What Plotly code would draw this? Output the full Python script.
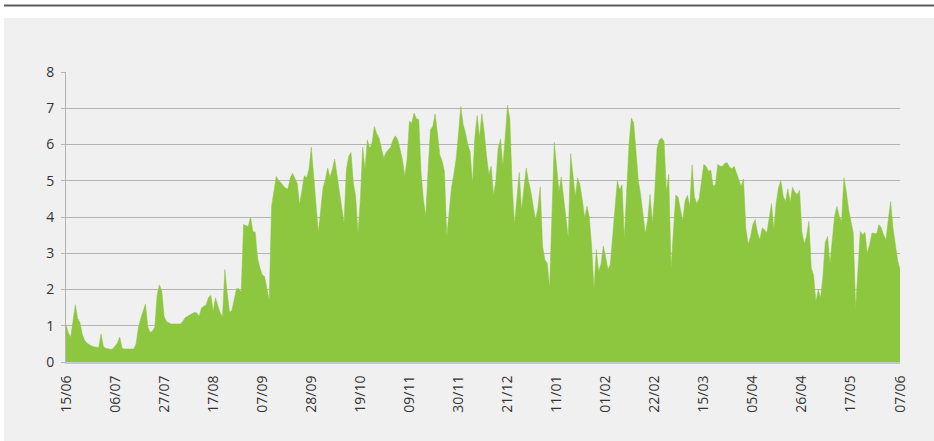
import pandas as pd
import plotly.graph_objects as go

start_date = "2014-06-15"
values = [
    1.03, 0.80, 0.68, 1.20, 1.58, 1.20, 1.08, 0.75, 0.60, 0.52,
    0.47, 0.44, 0.42, 0.40, 0.40, 0.78, 0.42, 0.38, 0.36, 0.35,
    0.36, 0.45, 0.52, 0.69, 0.38, 0.36, 0.36, 0.36, 0.36, 0.36,
    0.50, 0.95, 1.20, 1.40, 1.60, 0.98, 0.82, 0.85, 0.96, 1.85,
    2.13, 1.95, 1.26, 1.12, 1.08, 1.05, 1.05, 1.05, 1.05, 1.05,
    1.12, 1.22, 1.26, 1.29, 1.33, 1.37, 1.35, 1.26, 1.49, 1.53,
    1.58, 1.78, 1.84, 1.40, 1.77, 1.55, 1.35, 1.26, 2.55, 1.90,
    1.38, 1.42, 1.70, 2.02, 2.02, 1.93, 3.79, 3.76, 3.74, 4.00,
    3.60, 3.58, 2.87, 2.60, 2.41, 2.36, 2.00, 1.70, 4.30, 4.75,
    5.12, 5.00, 4.95, 4.86, 4.80, 4.77, 5.08, 5.21, 5.08, 4.92,
    4.34, 4.71, 5.14, 5.08, 5.31, 5.93, 5.12, 4.39, 3.58, 4.16,
    4.80, 5.03, 5.35, 5.10, 5.31, 5.60, 5.17, 4.66, 4.29, 3.83,
    5.30, 5.67, 5.78, 4.94, 4.57, 3.54, 4.48, 5.93, 5.31, 6.13,
    5.90, 6.04, 6.50, 6.30, 6.18, 5.90, 5.63, 5.78, 5.85, 5.93,
    6.13, 6.24, 6.13, 5.90, 5.60, 5.12, 5.60, 6.64, 6.59, 6.87,
    6.71, 6.69, 5.21, 4.48, 4.02, 5.31, 6.41, 6.50, 6.84, 6.32,
    5.72, 5.54, 5.26, 3.47, 4.20, 4.80, 5.17, 5.60, 6.30, 7.05,
    6.55, 6.32, 6.00, 5.80, 4.92, 6.20, 6.80, 6.20, 6.85, 6.36,
    5.70, 5.17, 5.40, 4.60, 5.00, 5.90, 6.15, 5.40, 6.20, 7.08,
    6.69, 4.85, 3.79, 4.48, 5.23, 4.20, 4.71, 5.35, 4.98, 4.70,
    4.30, 3.93, 4.25, 4.83, 3.19, 2.82, 2.73, 2.04, 4.02, 6.06,
    5.40, 4.71, 5.10, 4.57, 4.02, 3.42, 5.75, 5.12, 4.57, 5.08,
    4.89, 4.48, 3.97, 4.30, 4.00, 3.20, 2.00, 3.10, 2.50, 2.70,
    3.20, 2.90, 2.55, 2.70, 3.50, 4.40, 5.00, 4.75, 4.89, 3.42,
    4.85, 6.00, 6.73, 6.60, 5.80, 5.00, 4.60, 4.10, 3.54, 3.93,
    4.62, 3.83, 4.66, 5.90, 6.13, 6.18, 6.09, 4.71, 5.17, 2.59,
    3.60, 4.60, 4.55, 4.20, 3.88, 4.45, 4.60, 4.30, 5.44, 4.55,
    4.37, 4.50, 5.00, 5.45, 5.40, 5.26, 5.29, 4.85, 4.90, 5.45,
    5.40, 5.40, 5.48, 5.50, 5.38, 5.33, 5.40, 5.20, 5.00, 4.85,
    5.05, 3.70, 3.25, 3.45, 3.79, 3.93, 3.56, 3.37, 3.70, 3.65,
    3.56, 4.02, 4.37, 3.67, 4.39, 4.80, 5.01, 4.57, 4.43, 4.78,
    4.40, 4.82, 4.68, 4.62, 4.74, 3.60, 3.26, 3.47, 3.88, 2.60,
    2.40, 1.67, 2.00, 1.77, 2.36, 3.30, 3.47, 2.69, 3.37, 4.02,
    4.29, 4.02, 3.88, 5.08, 4.71, 4.20, 3.88, 3.56, 1.49, 2.59,
    3.60, 3.51, 3.58, 3.00, 3.24, 3.56, 3.56, 3.54, 3.79, 3.70,
    3.50, 3.38, 3.93, 4.43, 3.70, 3.20, 2.80, 2.55,
]
dates = pd.date_range(start_date, periods=len(values), freq="D")
tick_dates = pd.date_range(start_date, periods=18, freq="21D")
tick_labels = [d.strftime("%d/%m") for d in tick_dates]
y_ticks = [0, 1, 2, 3, 4, 5, 6, 7, 8]

fig = go.Figure()
fig.add_trace(go.Scatter(
    x=dates, y=values, mode="lines", fill="tozeroy",
    fillcolor="#8DC63F", line=dict(color="#8DC63F", width=0.5),
    hoverinfo="x+y",
))

W, H = 934, 441
L, R, T, B = 66, 34, 72, 79
pw, ph = W - L - R, H - T - B

def px_x(x):
    return (x - L) / pw

def px_y(y):
    return (H - B - y) / ph

fig.update_layout(
    width=W, height=H,
    margin=dict(l=L, r=R, t=T, b=B, pad=0),
    paper_bgcolor="#f0f0f0", plot_bgcolor="#f0f0f0",
    showlegend=False,
    font=dict(family="Open Sans", size=14, color="#333333"),
    xaxis=dict(
        type="date",
        range=[dates[0], dates[-1]],
        tickvals=tick_dates, ticktext=tick_labels,
        tickangle=-90, showgrid=False, zeroline=False,
        showline=True, linecolor="#c8c8c8", linewidth=2,
        ticks="", ticklabelstandoff=6,
        tickfont=dict(family="Open Sans", size=14, color="#333333"),
    ),
    yaxis=dict(
        range=[0, 8], tickvals=y_ticks,
        showgrid=True, gridcolor="#b4b4b4", gridwidth=1,
        zeroline=False, showline=True, linecolor="#b4b4b4", linewidth=1,
        ticks="outside", ticklen=4, tickcolor="#b4b4b4",
        ticklabelstandoff=4,
        tickfont=dict(family="Open Sans", size=14, color="#333333"),
    ),
    shapes=[
        dict(type="rect", xref="paper", yref="paper",
             x0=px_x(0), x1=px_x(W), y0=px_y(0), y1=px_y(18),
             fillcolor="white", line=dict(width=0), layer="above"),
        dict(type="rect", xref="paper", yref="paper",
             x0=px_x(0), x1=px_x(4), y0=px_y(0), y1=px_y(H),
             fillcolor="white", line=dict(width=0), layer="above"),
        dict(type="line", xref="paper", yref="paper",
             x0=px_x(4), x1=px_x(W), y0=px_y(5.5), y1=px_y(5.5),
             line=dict(color="#5a5a5a", width=2), layer="above"),
    ],
)

fig.write_html(
    "out.html",
    config={"displayModeBar": False},
    post_script="document.body.style.margin='0px';document.body.style.padding='0px';",
)
